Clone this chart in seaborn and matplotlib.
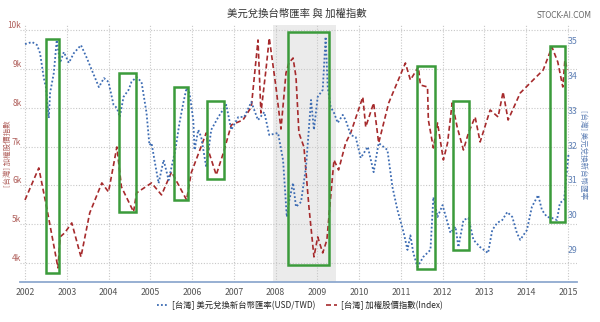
import matplotlib
matplotlib.use("Agg")
import matplotlib.pyplot as plt
from matplotlib.patches import Rectangle
from matplotlib.lines import Line2D
import seaborn as sns

# TAIEX weighted index (left axis), decimal year / index level
taiex_year = [2002.00, 2002.33, 2002.53, 2002.79, 2002.84, 2002.95, 2003.12, 2003.34, 2003.55,
              2003.84, 2004.00, 2004.20, 2004.31, 2004.60, 2004.67, 2005.03, 2005.27, 2005.51,
              2005.87, 2005.98, 2006.34, 2006.41, 2006.58, 2006.75, 2006.94, 2007.22, 2007.42,
              2007.58, 2007.65, 2007.77, 2007.85, 2008.01, 2008.13, 2008.25, 2008.32, 2008.42,
              2008.49, 2008.56, 2008.68, 2008.80, 2008.92, 2009.01, 2009.13, 2009.23, 2009.32,
              2009.40, 2009.51, 2009.68, 2009.80, 2010.09, 2010.16, 2010.35, 2010.47, 2010.71,
              2010.87, 2011.11, 2011.23, 2011.42, 2011.47, 2011.64, 2011.66, 2011.78, 2011.88,
              2012.02, 2012.12, 2012.23, 2012.35, 2012.50, 2012.62, 2012.78, 2012.90, 2013.14,
              2013.33, 2013.45, 2013.57, 2013.86, 2014.17, 2014.41, 2014.62, 2014.76, 2014.88,
              2014.93, 2014.99]
taiex_value = [5624, 6448, 5367, 3874, 4672, 4775, 5032, 4157, 5290,
               6062, 5830, 6988, 5959, 5315, 5804, 6062, 5753, 6345,
               5624, 6319, 7349, 6834, 6268, 6834, 7555, 7683, 8018,
               9743, 7864, 8970, 9794, 8533, 7450, 8893, 9151, 9279,
               8790, 7349, 6988, 5444, 4157, 4672, 4260, 4595, 5701,
               6654, 6396, 7091, 7349, 8275, 7503, 8121, 7091, 8121,
               8533, 9151, 8713, 9048, 8584, 8533, 7683, 6963, 7606,
               6654, 7091, 8121, 7503, 6911, 7349, 7761, 7117, 7941,
               7761, 8404, 7683, 8378, 8713, 8970, 9562, 9176, 8533,
               9228, 8970]

# USD/TWD exchange rate (right axis)
twd_year = [2002.00, 2002.17, 2002.29, 2002.36, 2002.45, 2002.50, 2002.57, 2002.60, 2002.69,
            2002.76, 2002.84, 2002.93, 2003.05, 2003.17, 2003.34, 2003.48, 2003.60, 2003.77,
            2003.89, 2004.00, 2004.12, 2004.20, 2004.27, 2004.36, 2004.48, 2004.55, 2004.67,
            2004.79, 2004.91, 2004.98, 2005.03, 2005.10, 2005.20, 2005.32, 2005.44, 2005.51,
            2005.60, 2005.70, 2005.79, 2005.87, 2005.94, 2006.03, 2006.06, 2006.15, 2006.22,
            2006.34, 2006.46, 2006.63, 2006.82, 2006.94, 2007.11, 2007.25, 2007.42, 2007.58,
            2007.73, 2007.85, 2008.06, 2008.18, 2008.27, 2008.32, 2008.42, 2008.49, 2008.61,
            2008.73, 2008.85, 2008.92, 2009.01, 2009.13, 2009.20, 2009.25, 2009.32, 2009.40,
            2009.49, 2009.61, 2009.68, 2009.80, 2009.92, 2010.04, 2010.21, 2010.35, 2010.47,
            2010.68, 2010.80, 2010.92, 2011.07, 2011.16, 2011.23, 2011.30, 2011.40, 2011.54,
            2011.71, 2011.78, 2011.88, 2012.00, 2012.12, 2012.19, 2012.31, 2012.38, 2012.50,
            2012.62, 2012.74, 2012.90, 2013.09, 2013.19, 2013.31, 2013.43, 2013.55, 2013.67,
            2013.78, 2013.86, 2014.02, 2014.14, 2014.29, 2014.38, 2014.50, 2014.62, 2014.74,
            2014.81, 2014.91, 2014.98, 2015.02]
twd_value = [34.91, 34.97, 34.88, 34.65, 33.93, 33.67, 32.78, 33.50, 34.08,
             35.03, 34.37, 34.68, 34.37, 34.65, 34.88, 34.51, 34.16, 33.67,
             33.93, 33.82, 33.16, 33.07, 32.81, 33.39, 33.59, 33.82, 33.96,
             33.82, 32.93, 32.00, 32.06, 31.57, 30.90, 31.57, 30.99, 31.37,
             31.86, 32.64, 33.21, 33.65, 33.50, 32.72, 31.86, 32.44, 32.23,
             31.37, 32.44, 32.81, 33.16, 32.44, 32.81, 32.81, 33.24, 32.72,
             32.95, 32.29, 32.35, 31.57, 29.93, 30.36, 30.91, 30.22, 30.36,
             31.37, 33.30, 32.44, 33.39, 33.59, 35.12, 33.67, 33.10, 32.93,
             32.64, 32.87, 32.72, 32.29, 32.23, 31.63, 31.95, 31.22, 32.06,
             31.86, 30.79, 30.13, 29.47, 28.98, 29.40, 28.89, 28.49, 28.78,
             28.98, 30.50, 29.93, 30.27, 29.76, 29.47, 29.65, 29.06, 29.84,
             29.90, 29.27, 29.06, 28.89, 29.55, 29.76, 29.84, 30.07, 29.93,
             29.47, 29.27, 29.55, 30.22, 30.56, 30.13, 29.93, 29.90, 29.84,
             30.33, 30.42, 31.28, 31.77]

year_ticks = list(range(2002, 2016))
taiex_ticks = [4000, 5000, 6000, 7000, 8000, 9000, 10000]
taiex_tick_labels = ["4k", "5k", "6k", "7k", "8k", "9k", "10k"]
twd_ticks = [29, 30, 31, 32, 33, 34, 35]

# financial-crisis period shaded in grey
crisis_start, crisis_end = 2007.95, 2009.45

# periods boxed in green (time span and index range)
box_start = [2002.50, 2004.24, 2005.56, 2006.37, 2008.30, 2011.38, 2012.26, 2014.58]
box_end = [2002.81, 2004.65, 2005.91, 2006.77, 2009.28, 2011.83, 2012.64, 2014.94]
box_low = [3743, 5305, 5614, 6176, 3949, 3846, 4335, 5060]
box_high = [9768, 8893, 8537, 8176, 9949, 9073, 8176, 9588]

title = "美元兌換台幣匯率 與 加權指數"
twd_name = "[台灣] 美元兌換新台幣匯率(USD/TWD)"
taiex_name = "[台灣] 加權股價指數(Index)"
left_title = "[台灣] 加權股價指數"
right_title = "[台灣] 美元兌換新台幣匯率"

RED = "#a62a2c"
BLUE = "#3d6cb3"
LEFT_LBL = "#b0605c"
RIGHT_LBL = "#5f80b5"
GREEN = "#3b9b3b"

sns.set_theme(style="white")
plt.rcParams["font.family"] = ["Noto Sans CJK TC", "DejaVu Sans"]

fig = plt.figure(figsize=(6, 3.22), dpi=100)
ax = fig.add_axes([20 / 600, 40 / 322, 557 / 600, 257 / 322])
ax2 = ax.twinx()

ax.set_xlim(2001.88, 2015.22)
ax.set_ylim(3511, 10129)
ax2.set_ylim(28.055, 35.46)

ax.axvspan(crisis_start, crisis_end, color="#ebebeb", zorder=0, lw=0)

sns.lineplot(x=taiex_year, y=taiex_value, ax=ax, color=RED, linewidth=1.2,
             linestyle=(0, (3, 1.8)), zorder=2)
sns.lineplot(x=twd_year, y=twd_value, ax=ax2, color=BLUE, linewidth=1.3,
             linestyle=(0, (1, 1.2)), zorder=2)

for x0, x1, y0, y1 in zip(box_start, box_end, box_low, box_high):
    ax2.add_patch(Rectangle((x0, y0), x1 - x0, y1 - y0, transform=ax.transData,
                            fill=False, edgecolor=GREEN, linewidth=1.8, zorder=3))

ax.set_xticks(year_ticks, [str(y) for y in year_ticks])
ax.set_yticks(taiex_ticks, taiex_tick_labels)
ax2.set_yticks(twd_ticks, [str(v) for v in twd_ticks])

ax.grid(True, axis="both", linestyle=(0, (1, 1.5)), color="#c8c8c8", linewidth=0.8)
ax.set_axisbelow(True)
ax2.grid(False)

for a in (ax, ax2):
    for s in ("top", "left", "right", "bottom"):
        a.spines[s].set_visible(False)
    a.set_xlabel("")
    a.set_ylabel("")
ax.spines["bottom"].set_visible(True)
ax.spines["bottom"].set_color("#8fa9cf")
ax.spines["bottom"].set_linewidth(1.3)

ax.tick_params(axis="x", length=0, pad=4, labelsize=6.3, labelcolor="#555555")
ax.tick_params(axis="y", length=0, pad=-1, labelsize=6, labelcolor=LEFT_LBL)
ax2.tick_params(axis="y", length=0, pad=-6.5, labelsize=6.3, labelcolor=RIGHT_LBL)
for lbl in ax.get_yticklabels():
    lbl.set_va("bottom")

fig.text(7.5 / 600, 1 - 154 / 322, left_title, rotation=90, color=LEFT_LBL,
         fontsize=5.4, ha="center", va="center")
fig.text(583 / 600, 1 - 155 / 322, right_title, rotation=270, color=RIGHT_LBL,
         fontsize=5.4, ha="center", va="center")
fig.text(297 / 600, 1 - 14 / 322, title, color="#333333", fontsize=7.5,
         ha="center", va="center")
fig.text(564 / 600, 1 - 15 / 322, "STOCK-AI.COM", color="#666666", fontsize=5.5,
         ha="center", va="center", family="DejaVu Sans")

handles = [Line2D([], [], color=BLUE, linewidth=1.3, linestyle=(0, (1, 1.2))),
           Line2D([], [], color=RED, linewidth=1.2, linestyle=(0, (3, 1.8)))]
fig.legend(handles, [twd_name, taiex_name], loc="center",
           bbox_to_anchor=(300 / 600, 1 - 305 / 322), ncol=2, frameon=False,
           fontsize=6, handlelength=1.3, columnspacing=1.3, handletextpad=0.5)

fig.savefig("out.png", dpi=100)
